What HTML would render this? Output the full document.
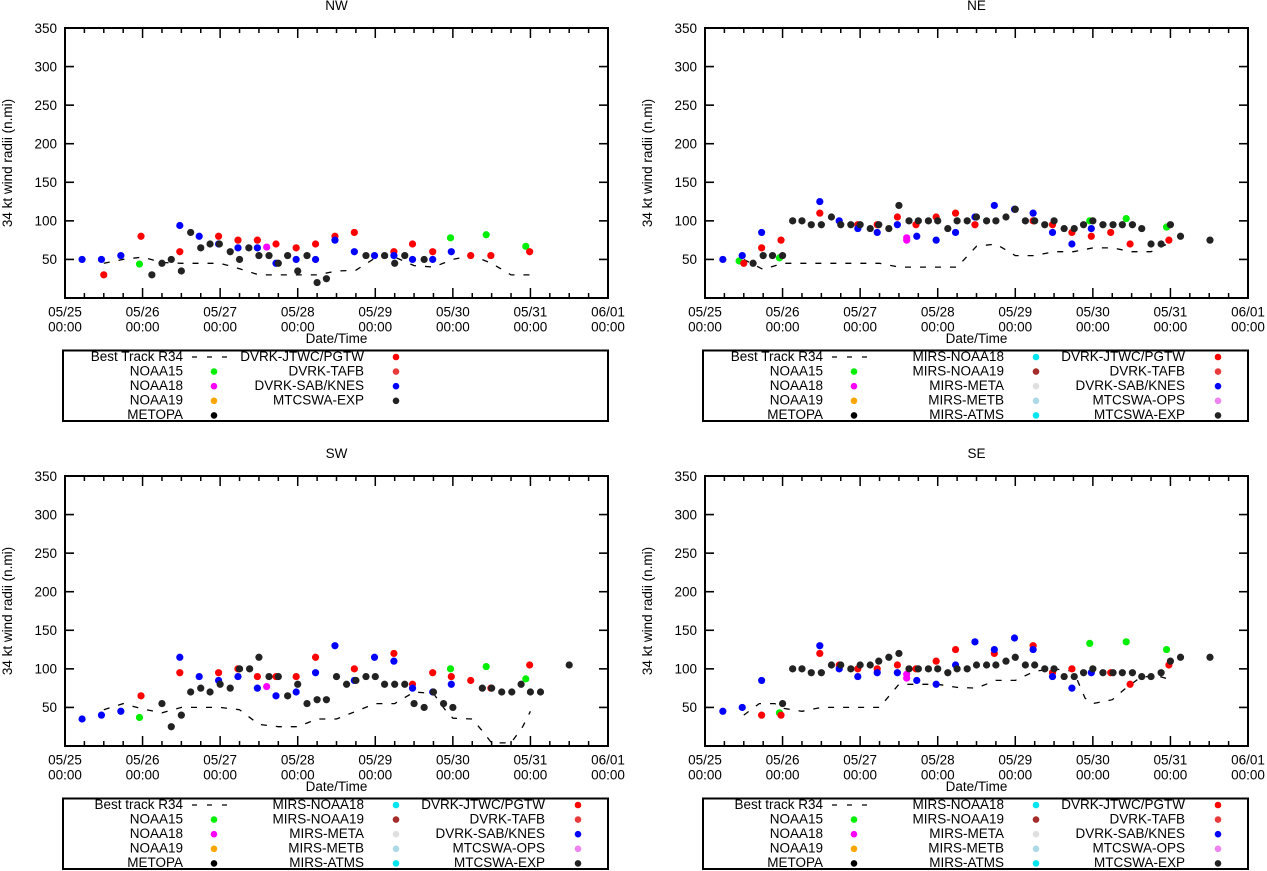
<!DOCTYPE html>
<html><head><meta charset="utf-8">
<style>
html,body{margin:0;padding:0;background:#fff;}
svg{display:block;font-family:"Liberation Sans",Arial,sans-serif;}
</style></head>
<body>
<svg id="chart" width="1267" height="871" viewBox="0 0 1267 871" xmlns="http://www.w3.org/2000/svg"></svg>
<script>
// ---- data: times are days after 05/25 00:00, values in n.mi ----
const dayLabels = ["05/25","05/26","05/27","05/28","05/29","05/30","05/31","06/01"];
const yTicks = [50,100,150,200,250,300,350];

const nwBestT = [0.5,0.75,1,1.25,1.5,1.75,2,2.25,2.5,2.75,3,3.25,3.5,3.75,4,4.25,4.5,4.75,5,5.25,5.5,5.75,6];
const nwBestV = [45,50,53,46,45,45,45,38,30,30,30,30,35,36,52,53,42,40,50,55,45,30,30];
const nwExpT = [1.12,1.25,1.37,1.5,1.62,1.75,1.87,1.99,2.13,2.25,2.37,2.5,2.63,2.75,2.87,3.0,3.12,3.25,3.37,3.88,4.12,4.25,4.38,4.63];
const nwExpV = [30,45,50,35,85,65,70,70,60,50,65,55,55,45,55,35,55,20,25,55,55,45,55,50];
const nwJtwcT = [0.5,0.98,1.48,1.98,2.23,2.48,2.72,2.98,3.23,3.48,3.73,4.24,4.48,4.74,5.23,5.49,5.99];
const nwJtwcV = [30,80,60,80,75,75,70,65,70,80,85,60,70,60,55,55,60];
const nwSabT = [0.22,0.47,0.72,1.48,1.73,1.98,2.23,2.48,2.72,2.98,3.23,3.48,3.73,3.99,4.24,4.48,4.74,4.98];
const nwSabV = [50,50,55,94,80,70,65,65,45,50,50,75,60,55,55,50,50,60];
const nwN15T = [0.96,4.97,5.43,5.94];
const nwN15V = [44,78,82,67];
const nwN18T = [2.6];
const nwN18V = [66];

const neBestT = [0.5,0.75,1,1.25,1.5,1.75,2,2.25,2.5,2.75,3,3.25,3.5,3.75,4,4.25,4.5,4.75,5,5.25,5.5,5.75,6];
const neBestV = [50,37,45,45,45,45,45,45,40,40,40,40,67,70,55,55,60,60,65,65,60,60,72];
const neExpT = [0.62,0.75,0.87,1.0,1.13,1.25,1.37,1.5,1.63,1.75,1.88,2.0,2.13,2.24,2.37,2.5,2.63,2.75,2.88,3.0,3.13,3.25,3.38,3.5,3.63,3.75,3.88,4.0,4.13,4.25,4.38,4.5,4.63,4.76,4.88,5.0,5.13,5.26,5.38,5.51,5.63,5.75,5.88,6.0,6.13,6.51];
const neExpV = [45,55,55,55,100,100,95,95,105,95,95,95,90,95,90,120,100,100,100,100,90,100,100,105,100,100,105,115,100,100,95,100,90,90,95,100,95,95,95,95,90,70,70,95,80,75];
const neJtwcT = [0.5,0.73,0.98,1.48,1.97,2.22,2.48,2.72,2.98,3.23,3.48,4.23,4.48,4.73,4.98,5.23,5.48,5.98];
const neJtwcV = [45,65,75,110,95,95,105,95,105,110,95,100,95,85,80,85,70,75];
const neSabT = [0.23,0.48,0.73,1.48,1.73,1.97,2.22,2.48,2.73,2.98,3.23,3.48,3.73,3.99,4.23,4.48,4.73,4.98];
const neSabV = [50,55,85,125,100,90,85,95,80,75,85,105,120,115,110,85,70,90];
const neN15T = [0.44,0.96,4.96,5.43,5.95];
const neN15V = [48,52,100,103,92];
const neN18T = [2.6,2.6];
const neN18V = [78,75];

const swBestT = [0.5,0.75,1,1.25,1.5,1.75,2,2.25,2.5,2.75,3,3.25,3.5,3.75,4,4.25,4.5,4.75,4.9,5,5.25,5.4,5.5,5.75,5.9,6];
const swBestV = [47,55,48,43,50,50,50,47,28,25,25,35,35,45,55,55,70,68,47,36,35,17,4,4,25,45];
const swExpT = [1.25,1.37,1.5,1.62,1.75,1.87,2.0,2.13,2.25,2.38,2.5,2.63,2.75,2.87,3.0,3.12,3.25,3.37,3.5,3.63,3.75,3.88,4.0,4.12,4.25,4.38,4.5,4.63,4.75,4.88,5.0,5.38,5.5,5.63,5.76,5.88,6.0,6.13,6.5];
const swExpV = [55,25,40,70,75,70,80,75,100,100,115,90,90,65,80,55,60,60,90,80,85,90,90,80,80,80,55,50,70,55,50,75,75,70,70,80,70,70,105];
const swJtwcT = [0.98,1.48,1.98,2.23,2.48,2.72,2.98,3.23,3.73,4.24,4.48,4.74,4.98,5.23,5.49,5.99];
const swJtwcV = [65,95,95,100,90,90,90,115,100,120,80,95,90,85,75,105];
const swSabT = [0.22,0.47,0.72,1.48,1.73,1.98,2.23,2.48,2.72,2.98,3.23,3.48,3.73,3.99,4.24,4.48,4.74,4.98];
const swSabV = [35,40,45,115,90,85,90,75,65,70,95,130,85,115,110,75,70,80];
const swN15T = [0.96,4.97,5.43,5.94];
const swN15V = [37,100,103,87];
const swN18T = [2.6];
const swN18V = [77];

const seBestT = [0.5,0.7,0.9,1,1.25,1.5,1.75,2,2.25,2.5,2.75,3,3.25,3.5,3.75,4,4.25,4.5,4.75,4.9,5,5.25,5.4,5.6,5.8,6];
const seBestV = [40,55,55,49,45,50,50,50,50,80,80,80,76,75,85,85,97,100,97,62,55,60,73,88,92,86];
const seExpT = [1.0,1.13,1.25,1.37,1.5,1.63,1.75,1.88,2.0,2.13,2.24,2.37,2.5,2.63,2.75,2.88,3.0,3.13,3.25,3.38,3.5,3.63,3.75,3.88,4.0,4.13,4.25,4.38,4.5,4.63,4.76,4.88,5.0,5.13,5.26,5.38,5.51,5.63,5.75,5.88,6.0,6.13,6.51];
const seExpV = [55,100,100,95,95,105,105,100,105,105,110,115,120,100,100,100,100,95,100,100,105,105,105,110,115,105,105,100,100,90,90,95,100,95,95,95,95,90,90,95,110,115,115];
const seJtwcT = [0.73,0.98,1.48,1.73,1.97,2.22,2.48,2.72,2.98,3.23,3.73,4.23,4.48,4.73,5.23,5.48,5.98];
const seJtwcV = [40,40,120,105,100,100,105,100,110,125,120,130,95,100,95,80,105];
const seSabT = [0.23,0.48,0.73,1.48,1.73,1.97,2.22,2.48,2.73,2.98,3.23,3.48,3.73,3.99,4.23,4.48,4.73,4.98];
const seSabV = [45,50,85,130,100,90,95,95,85,80,105,135,125,140,125,90,75,95];
const seN15T = [0.96,4.96,5.43,5.95];
const seN15V = [43,133,135,125];
const seN18T = [2.6,2.6];
const seN18V = [93,88];

const legendShort = [
  [["Best Track R34","dash"],["NOAA15","#00ee00"],["NOAA18","#ff00ff"],["NOAA19","#ffa500"],["METOPA","#000000"]],
  [["DVRK-JTWC/PGTW","#ff0000"],["DVRK-TAFB","#e83c3c"],["DVRK-SAB/KNES","#0000ff"],["MTCSWA-EXP","#222222"]]
];
function legendLong(bt){ return [
  [[bt,"dash"],["NOAA15","#00ee00"],["NOAA18","#ff00ff"],["NOAA19","#ffa500"],["METOPA","#000000"]],
  [["MIRS-NOAA18","#00e5ee"],["MIRS-NOAA19","#a52a2a"],["MIRS-META","#e0e0e0"],["MIRS-METB","#add8e6"],["MIRS-ATMS","#00e5ee"]],
  [["DVRK-JTWC/PGTW","#ff0000"],["DVRK-TAFB","#e83c3c"],["DVRK-SAB/KNES","#0000ff"],["MTCSWA-OPS","#ee82ee"],["MTCSWA-EXP","#222222"]]
];}

const NS = "http://www.w3.org/2000/svg";
const svg = document.getElementById("chart");
function mk(tag, attrs, parent){
  const e = document.createElementNS(NS, tag);
  for (const k in attrs) e.setAttribute(k, attrs[k]);
  (parent||svg).appendChild(e); return e;
}

function panel(cfg){
  const L=cfg.x, R=cfg.x+543, T=cfg.y, B=cfg.y+270;
  const xs = d => L + d*(R-L)/7;
  const ys = v => B - v*(B-T)/350;
  const g = mk("g",{});
  
  

  const title = mk("text",{x:(L+R)/2, y:T-18, "text-anchor":"middle","font-size":"13.5"},g);
  title.textContent = cfg.title;
  
  

  const yt = mk("text",{transform:`translate(${L-53},${(T+B)/2}) rotate(-90)`,"text-anchor":"middle","font-size":"13.5"},g);
  yt.textContent = "34 kt wind radii (n.mi)";
  
  

  // y ticks
  yTicks.forEach(v=>{
    const y=ys(v);
    mk("line",{x1:L,x2:L+9,y1:y,y2:y,stroke:"#000","stroke-width":"1.6"},g);
    mk("line",{x1:R,x2:R-9,y1:y,y2:y,stroke:"#000","stroke-width":"1.6"},g);
    const t = mk("text",{x:L-8,y:y+4.8,"text-anchor":"end","font-size":"13.5"},g);
    t.textContent = v;
    
    
  });
  // x ticks
  for(let i=0;i<=28;i++){
    const d=i/4, x=xs(d), len=(i%4===0)?10:5;
    mk("line",{x1:x,x2:x,y1:B,y2:B-len,stroke:"#000","stroke-width":"1.5"},g);
    mk("line",{x1:x,x2:x,y1:T,y2:T+len,stroke:"#000","stroke-width":"1.5"},g);
  }
  dayLabels.forEach((lab,i)=>{
    const x=xs(i);
    const t1 = mk("text",{x:x,y:B+18.5,"text-anchor":"middle","font-size":"13.5"},g);
    t1.textContent = lab;
    
    
    const t2 = mk("text",{x:x,y:B+33.5,"text-anchor":"middle","font-size":"13.5"},g);
    t2.textContent = "00:00";
    
    
  });
  const xt = mk("text",{x:(L+R)/2,y:B+45,"text-anchor":"middle","font-size":"13.5"},g);
  xt.textContent = "Date/Time";
  
  

  // best track line
  const pts = cfg.bestT.map((t,i)=>xs(t).toFixed(1)+","+ys(cfg.bestV[i]).toFixed(1)).join(" ");
  const bl = mk("polyline",{points:pts,fill:"none",stroke:"#000","stroke-width":"1.3","stroke-dasharray":"6,9"},g);
  
  

  cfg.series.forEach(s=>{
    s.t.forEach((t,i)=>{
      const c = mk("circle",{cx:xs(t),cy:ys(s.v[i]),r:3.6,fill:s.color},g);
      
      
    });
  });

  // frame
  const fr = mk("rect",{x:L,y:T,width:R-L,height:B-T,fill:"none",stroke:"#000","stroke-width":"2"},g);
  
  

  // legend
  const LT=B+52.5, LB=B+123;
  const lg = mk("rect",{x:L-2,y:LT,width:R-L+2,height:LB-LT,fill:"none",stroke:"#000","stroke-width":"2"},g);
  
  
  const colTextR=[118,299,480], colSym=[149,331,513];
  cfg.legend.forEach((col,ci)=>{
    col.forEach((item,ri)=>{
      const y = B+58 + ri*14.6;
      const t = mk("text",{x:L+colTextR[ci],y:y+4.8,"text-anchor":"end","font-size":"13.5"},g);
      t.textContent = item[0];
      
      
      if(item[1]==="dash"){
        const ln = mk("line",{x1:L+colSym[ci]-22,x2:L+colSym[ci]+18,y1:y+1,y2:y+1,stroke:"#000","stroke-width":"1.3","stroke-dasharray":"5,10"},g);
        
        
      } else {
        const c = mk("circle",{cx:L+colSym[ci],cy:y+1,r:3.3,fill:item[1]},g);
        
        
      }
    });
  });
}

function seriesSet(n15T,n15V,n18T,n18V,jT,jV,sT,sV,eT,eV){
  return [
    {name:"noaa15",color:"#00ee00",t:n15T,v:n15V},
    {name:"noaa18",color:"#ff00ff",t:n18T,v:n18V},
    {name:"dvrk-jtwc",color:"#ff0000",t:jT,v:jV},
    {name:"dvrk-sab",color:"#0000ff",t:sT,v:sV},
    {name:"mtcswa-exp",color:"#222222",t:eT,v:eV}
  ];
}

panel({key:"nw",title:"NW",x:65,y:28,bestT:nwBestT,bestV:nwBestV,legend:legendShort,
  series:seriesSet(nwN15T,nwN15V,nwN18T,nwN18V,nwJtwcT,nwJtwcV,nwSabT,nwSabV,nwExpT,nwExpV)});
panel({key:"ne",title:"NE",x:705,y:28,bestT:neBestT,bestV:neBestV,legend:legendLong("Best Track R34"),
  series:seriesSet(neN15T,neN15V,neN18T,neN18V,neJtwcT,neJtwcV,neSabT,neSabV,neExpT,neExpV)});
panel({key:"sw",title:"SW",x:65,y:476,bestT:swBestT,bestV:swBestV,legend:legendLong("Best track R34"),
  series:seriesSet(swN15T,swN15V,swN18T,swN18V,swJtwcT,swJtwcV,swSabT,swSabV,swExpT,swExpV)});
panel({key:"se",title:"SE",x:705,y:476,bestT:seBestT,bestV:seBestV,legend:legendLong("Best track R34"),
  series:seriesSet(seN15T,seN15V,seN18T,seN18V,seJtwcT,seJtwcV,seSabT,seSabV,seExpT,seExpV)});
</script>
</body></html>
